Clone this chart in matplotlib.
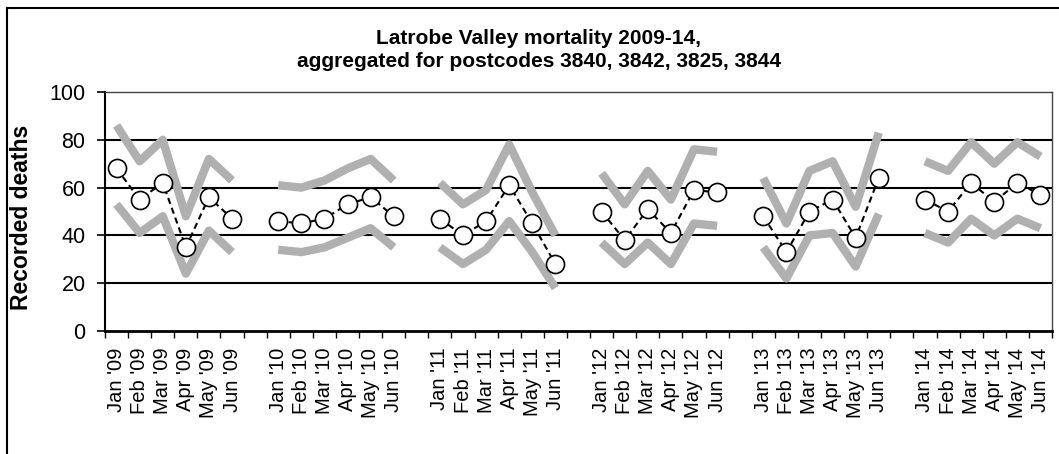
import matplotlib
matplotlib.use("Agg")
import matplotlib.pyplot as plt
import numpy as np
from matplotlib.lines import Line2D

plt.rcParams['font.family'] = ['Liberation Sans', 'DejaVu Sans']

months = ['Jan', 'Feb', 'Mar', 'Apr', 'May', 'Jun']
years = ['09', '10', '11', '12', '13', '14']

observed = [68, 55, 62, 35, 56, 47,
            46, 45, 47, 53, 56, 48,
            47, 40, 46, 61, 45, 28,
            50, 38, 51, 41, 59, 58,
            48, 33, 50, 55, 39, 64,
            55, 50, 62, 54, 62, 57]
upper = [86, 71, 80, 48, 72, 63,
         61, 60, 63, 68, 72, 63,
         62, 53, 59, 78, 58, 40,
         66, 53, 67, 55, 76, 75,
         64, 45, 67, 71, 52, 83,
         71, 67, 79, 70, 79, 73]
lower = [53, 41, 48, 24, 42, 33,
         34, 33, 35, 39, 43, 35,
         35, 28, 34, 46, 33, 18,
         37, 28, 37, 28, 45, 44,
         35, 22, 40, 41, 27, 49,
         41, 37, 47, 40, 47, 43]

# build category list with a blank slot between years
labels = []
obs_full, up_full, lo_full = [], [], []
for gi, y in enumerate(years):
    if gi > 0:
        labels.append('')
        obs_full.append(np.nan); up_full.append(np.nan); lo_full.append(np.nan)
    for mi, m in enumerate(months):
        labels.append(f"{m} '{y}")
        k = gi * 6 + mi
        obs_full.append(observed[k]); up_full.append(upper[k]); lo_full.append(lower[k])

x = np.arange(len(labels))
obs_full = np.array(obs_full, float)
up_full = np.array(up_full, float)
lo_full = np.array(lo_full, float)

fig = plt.figure(figsize=(10.59, 4.54), dpi=100)
ax = fig.add_axes([105/1059, 1 - 331/454, (1052-105)/1059, (331-92)/454])

ax.set_xlim(-0.5, len(labels) - 0.5)
ax.set_ylim(0, 100)

for gv in [20, 40, 60, 80]:
    ax.axhline(gv, color='black', lw=1.5, zorder=1)

ax.plot(x, up_full, color='#b0b0b0', lw=6, solid_capstyle='butt', zorder=2)
ax.plot(x, lo_full, color='#b0b0b0', lw=6, solid_capstyle='butt', zorder=2)
ax.plot(x, obs_full, color='black', lw=1.5, ls=(0, (3, 2)), zorder=3)
ax.plot(x, obs_full, ls='none', marker='o', ms=13, mfc='white', mec='black',
        mew=1.2, zorder=4)

ax.set_yticks([0, 20, 40, 60, 80, 100])
ax.tick_params(axis='y', labelsize=15.5, length=6, width=1.2, direction='out', pad=8)
ax.set_xticks(x)
ax.set_xticklabels(labels, rotation=90, fontsize=14.5, va='top', ha='center')
ax.tick_params(axis='x', which='major', length=0, pad=12)
ax.set_xticks(np.arange(-0.5, len(labels)), minor=True)
ax.tick_params(axis='x', which='minor', length=5, width=1, direction='out')

ax.spines['left'].set_linewidth(1.5)
ax.spines['bottom'].set_linewidth(2)
for s in ['top', 'right']:
    ax.spines[s].set_linestyle((0, (2, 1)))
    ax.spines[s].set_linewidth(1)
    ax.spines[s].set_color('#444444')

ax.set_ylabel('Recorded deaths', fontsize=16.5, fontweight='bold')
ax.yaxis.set_label_coords(-0.076, 0.477)

fig.text(539/1059, 1 - 43.5/454, 'Latrobe Valley mortality 2009-14,', ha='center',
         va='baseline', fontsize=15, fontweight='bold')
fig.text(539/1059, 1 - 67/454, 'aggregated for postcodes 3840, 3842, 3825, 3844',
         ha='center', va='baseline', fontsize=15, fontweight='bold')

# outer frame (top and left visible)
fig.add_artist(Line2D([7/1059, 7/1059], [0, 1 - 8/454], transform=fig.transFigure,
                      color='black', lw=1.5))
fig.add_artist(Line2D([7/1059, 1], [1 - 8/454, 1 - 8/454], transform=fig.transFigure,
                      color='black', lw=1.5))

fig.savefig('out.png', dpi=100)
